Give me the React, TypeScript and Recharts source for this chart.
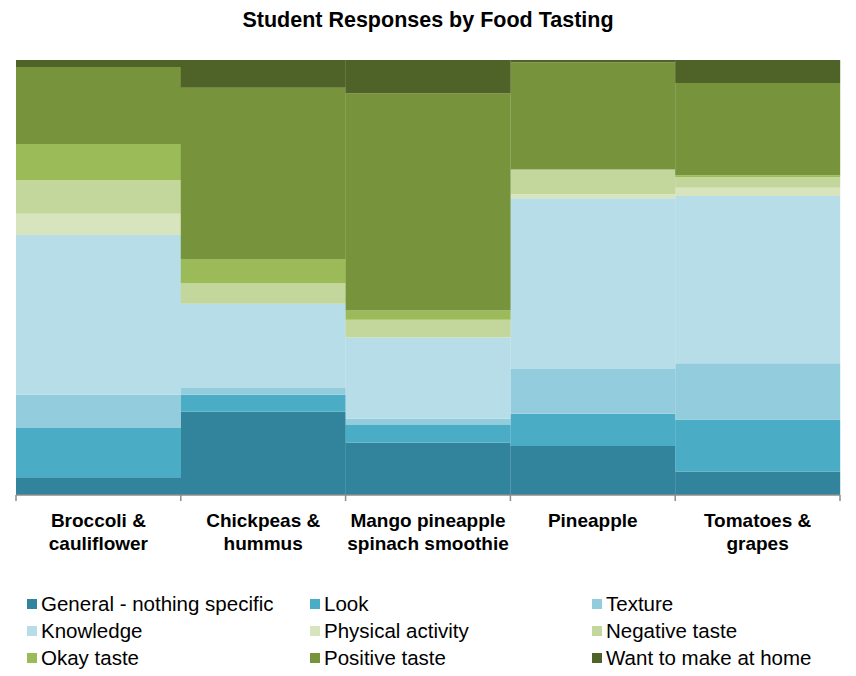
import React from "react";
import { BarChart, Bar, XAxis, YAxis } from "recharts";

const categories = [
  "Broccoli & cauliflower",
  "Chickpeas & hummus",
  "Mango pineapple spinach smoothie",
  "Pineapple",
  "Tomatoes & grapes",
];
const categoryLabelLines = [
  ["Broccoli &", "cauliflower"],
  ["Chickpeas &", "hummus"],
  ["Mango pineapple", "spinach smoothie"],
  ["Pineapple"],
  ["Tomatoes &", "grapes"],
];

const generalNothing = [4.1, 19.1, 12.0, 11.3, 5.4];
const look = [11.3, 3.9, 4.1, 7.4, 12.0];
const texture = [7.7, 1.6, 1.5, 10.3, 12.9];
const knowledge = [36.6, 19.3, 18.6, 39.3, 38.5];
const physicalActivity = [4.9, 0, 0, 0.9, 1.9];
const negativeTaste = [7.7, 4.8, 4.1, 5.7, 2.4];
const okayTaste = [8.3, 5.5, 2.1, 0, 0.5];
const positiveTaste = [17.7, 39.3, 49.9, 24.7, 21.2];
const wantToMake = [1.6, 6.4, 7.7, 0.5, 5.3];

const seriesNames = [
  "General - nothing specific",
  "Look",
  "Texture",
  "Knowledge",
  "Physical activity",
  "Negative taste",
  "Okay taste",
  "Positive taste",
  "Want to make at home",
];
const seriesValues = [
  generalNothing,
  look,
  texture,
  knowledge,
  physicalActivity,
  negativeTaste,
  okayTaste,
  positiveTaste,
  wantToMake,
];
const seriesColors = [
  "#31849B",
  "#4BACC6",
  "#93CDDD",
  "#B7DEE8",
  "#D7E4BD",
  "#C3D69B",
  "#9BBB59",
  "#77933C",
  "#4F6228",
];

const keys = seriesNames.map((_, i) => `s${i}`);

const data = categories.map((name, ci) => {
  const row: Record<string, any> = { name };
  seriesValues.forEach((vals, si) => {
    row[keys[si]] = vals[ci];
  });
  return row;
});

const AXIS_GRAY = "#8C8C8C";
const FONT = "'Liberation Sans', Arial, sans-serif";

const CategoryTick = (props: any) => {
  const { x, y, payload, index } = props;
  const off = payload && typeof payload.offset === "number" ? payload.offset : 0;
  const isLast = index === categories.length - 1;
  const ci = categories.indexOf(payload.value);
  const lines = ci >= 0 ? categoryLabelLines[ci] : [String(payload.value)];
  return (
    <g>
      <line x1={x - off} x2={x - off} y1={y} y2={y + 6} stroke={AXIS_GRAY} strokeWidth={1.5} />
      {isLast && (
        <line x1={x + off} x2={x + off} y1={y} y2={y + 6} stroke={AXIS_GRAY} strokeWidth={1.5} />
      )}
      <text
        x={x}
        y={y + 32}
        textAnchor="middle"
        style={{ fontFamily: FONT, fontWeight: 700, fontSize: 19 }}
        fill="#000"
      >
        {lines.map((l, i) => (
          <tspan key={i} x={x} dy={i === 0 ? 0 : 23}>
            {l}
          </tspan>
        ))}
      </text>
    </g>
  );
};

export default function App() {
  return (
    <div
      style={{
        position: "absolute",
        left: 0,
        top: 0,
        width: 856,
        height: 676,
        background: "#fff",
        fontFamily: FONT,
      }}
    >
      <div
        style={{
          position: "absolute",
          top: 8,
          left: 0,
          width: 856,
          textAlign: "center",
          fontWeight: 700,
          fontSize: 21.5,
          lineHeight: "24px",
          color: "#000",
        }}
      >
        Student Responses by Food Tasting
      </div>
      <div style={{ position: "absolute", left: 0, top: 0 }}>
        <BarChart
          width={856}
          height={570}
          data={data}
          stackOffset="expand"
          barCategoryGap={0}
          margin={{ top: 60, right: 16, bottom: 5, left: 16 }}
        >
          <YAxis hide domain={[0, 1]} />
          <XAxis
            dataKey="name"
            interval={0}
            height={70}
            tickSize={0}
            tickMargin={0}
            tickLine={false}
            axisLine={{ stroke: AXIS_GRAY, strokeWidth: 1.5 }}
            tick={<CategoryTick />}
          />
          {keys.map((k, i) => (
            <Bar
              key={k}
              dataKey={k}
              name={seriesNames[i]}
              stackId="a"
              fill={seriesColors[i]}
              isAnimationActive={false}
            />
          ))}
        </BarChart>
      </div>
      <div
        style={{
          position: "absolute",
          left: 27,
          top: 590.5,
          display: "grid",
          gridTemplateColumns: "283px 282px 260px",
          gridAutoRows: "27px",
        }}
      >
        {seriesNames.map((n, i) => (
          <div key={n} style={{ display: "flex", alignItems: "center", whiteSpace: "nowrap" }}>
            <span
              style={{
                display: "inline-block",
                width: 10,
                height: 10,
                background: seriesColors[i],
                marginRight: 4,
              }}
            />
            <span style={{ fontSize: 20.5, color: "#000" }}>{n}</span>
          </div>
        ))}
      </div>
    </div>
  );
}
